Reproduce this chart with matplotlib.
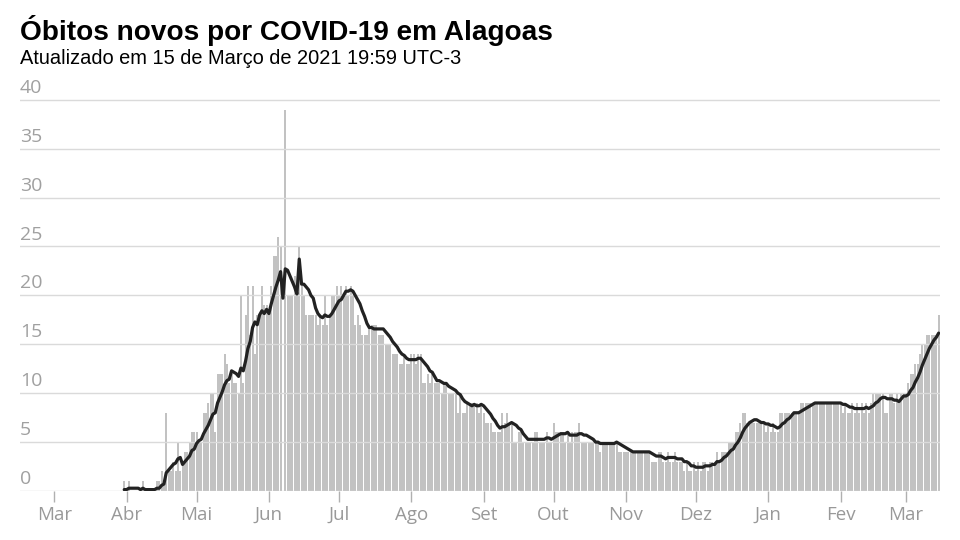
import matplotlib
matplotlib.use('Agg')
import matplotlib.pyplot as plt
import numpy as np
import pandas as pd

# daily new deaths, Alagoas (Mar 31 2020 .. Mar 15 2021)
mar20 = [1]
apr20 = [0, 1, 0, 0, 0, 0, 0, 1, 0, 0, 0, 0, 0, 1, 1, 2, 1, 8, 2, 2, 3, 2, 5, 2, 3, 4, 4, 5, 6, 6]
may20 = [6, 5, 5, 8, 8, 9, 10, 10, 6, 12, 12, 12, 14, 13, 11, 12, 11, 11, 10, 20, 11, 18, 21, 16, 21,
         14, 18, 18, 21, 19, 19]
jun20 = [18, 21, 24, 24, 26, 25, 0, 39, 20, 20, 20, 22, 20, 25, 21, 20, 18, 18, 18, 18, 18, 17, 18, 17,
         20, 17, 18, 20, 20, 21]
jul20 = [20, 21, 20, 21, 20, 21, 20, 17, 18, 17, 16, 16, 16, 17, 17, 17, 17, 16, 16, 16, 15, 15, 15, 14,
         14, 14, 13, 13, 14, 13, 13]
aug20 = [14, 14, 13, 14, 14, 11, 11, 12, 11, 12, 11, 11, 11, 10, 11, 11, 10, 10, 10, 10, 8, 10, 8, 8, 9,
         9, 9, 9, 9, 8, 9]
sep20 = [8, 7, 7, 7, 6, 6, 6, 6, 8, 7, 8, 7, 7, 5, 5, 6, 6, 5, 5, 5, 5, 5, 6, 6, 5, 5, 5, 6, 5, 5]
oct20 = [7, 6, 6, 6, 6, 5, 6, 5, 6, 6, 6, 7, 5, 5, 5, 5, 5, 5, 5, 5, 4, 5, 5, 5, 5, 5, 5, 5, 4, 4, 4]
nov20 = [4, 4, 4, 4, 4, 4, 4, 4, 4, 4, 4, 3, 3, 3, 4, 4, 3, 3, 4, 3, 3, 4, 3, 3, 3, 2, 3, 2, 2, 3]
dec20 = [2, 3, 2, 3, 3, 2, 3, 3, 3, 4, 3, 4, 4, 4, 5, 5, 5, 6, 6, 7, 8, 8, 7, 7, 7, 7, 7, 7, 7, 7, 6]
jan21 = [7, 6, 7, 6, 6, 8, 8, 8, 8, 8, 8, 8, 8, 8, 9, 9, 9, 9, 9, 9, 9, 9, 9, 9, 9, 9, 9, 9, 9, 9, 9]
feb21 = [9, 8, 9, 8, 8, 9, 8, 9, 8, 9, 8, 9, 8, 9, 10, 10, 10, 10, 10, 8, 8, 10, 10, 9, 10, 9, 10, 10]
mar21 = [10, 11, 12, 12, 13, 13, 14, 15, 15, 16, 16, 16, 16, 16, 18]

month_labels = ['Mar', 'Abr', 'Mai', 'Jun', 'Jul', 'Ago', 'Set', 'Out', 'Nov', 'Dez', 'Jan', 'Fev', 'Mar']
title = 'Óbitos novos por COVID-19 em Alagoas'
subtitle = 'Atualizado em 15 de Março de 2021 19:59 UTC-3'

deaths = (mar20 + apr20 + may20 + jun20 + jul20 + aug20 + sep20 + oct20 + nov20 + dec20
          + jan21 + feb21 + mar21)
dates = pd.date_range('2020-03-31', periods=len(deaths), freq='D')
s = pd.Series(deaths, index=dates)
avg7 = s.rolling(7, min_periods=1).sum() / 7

fig = plt.figure(figsize=(9.6, 5.4), dpi=100)
ax = fig.add_axes([20 / 960, 49 / 540, 920 / 960, 401 / 540])

ax.bar(dates, s.values, width=0.8, color='#c2c2c2', linewidth=0, zorder=1)
ax.plot(dates, avg7.values, color='#222222', lw=2.3, zorder=3, solid_capstyle='round')

ax.set_ylim(0, 41)
ax.set_xlim(pd.Timestamp('2020-02-15 08:00'), pd.Timestamp('2021-03-15 14:00'))
yt = list(range(0, 41, 5))
ax.set_yticks(yt)
ax.grid(axis='y', color='#dadada', lw=1, zorder=2)
ax.set_axisbelow(False)
for sp in ax.spines.values():
    sp.set_visible(False)
ax.tick_params(axis='y', length=0, labelleft=False)
for v in yt:
    ax.text(0, v + 0.3, str(v), transform=ax.get_yaxis_transform(), ha='left', va='bottom',
            fontsize=14, color='#a0a0a0', family='Open Sans')

ticks = pd.date_range('2020-03-01', '2021-03-01', freq='MS')
ax.set_xticks(ticks)
ax.set_xticklabels(month_labels, family='Open Sans')
ax.tick_params(axis='x', length=8, width=1, color='#b0b0b0', labelcolor='#999999',
               labelsize=13.5, pad=3)

fig.text(20 / 960, 1 - 40 / 540, title, fontsize=20.2, fontweight='bold',
         family='Liberation Sans', va='baseline')
fig.text(20 / 960, 1 - 63.5 / 540, subtitle, fontsize=14.4, family='Liberation Sans', va='baseline')

fig.savefig('out.png', dpi=100)
